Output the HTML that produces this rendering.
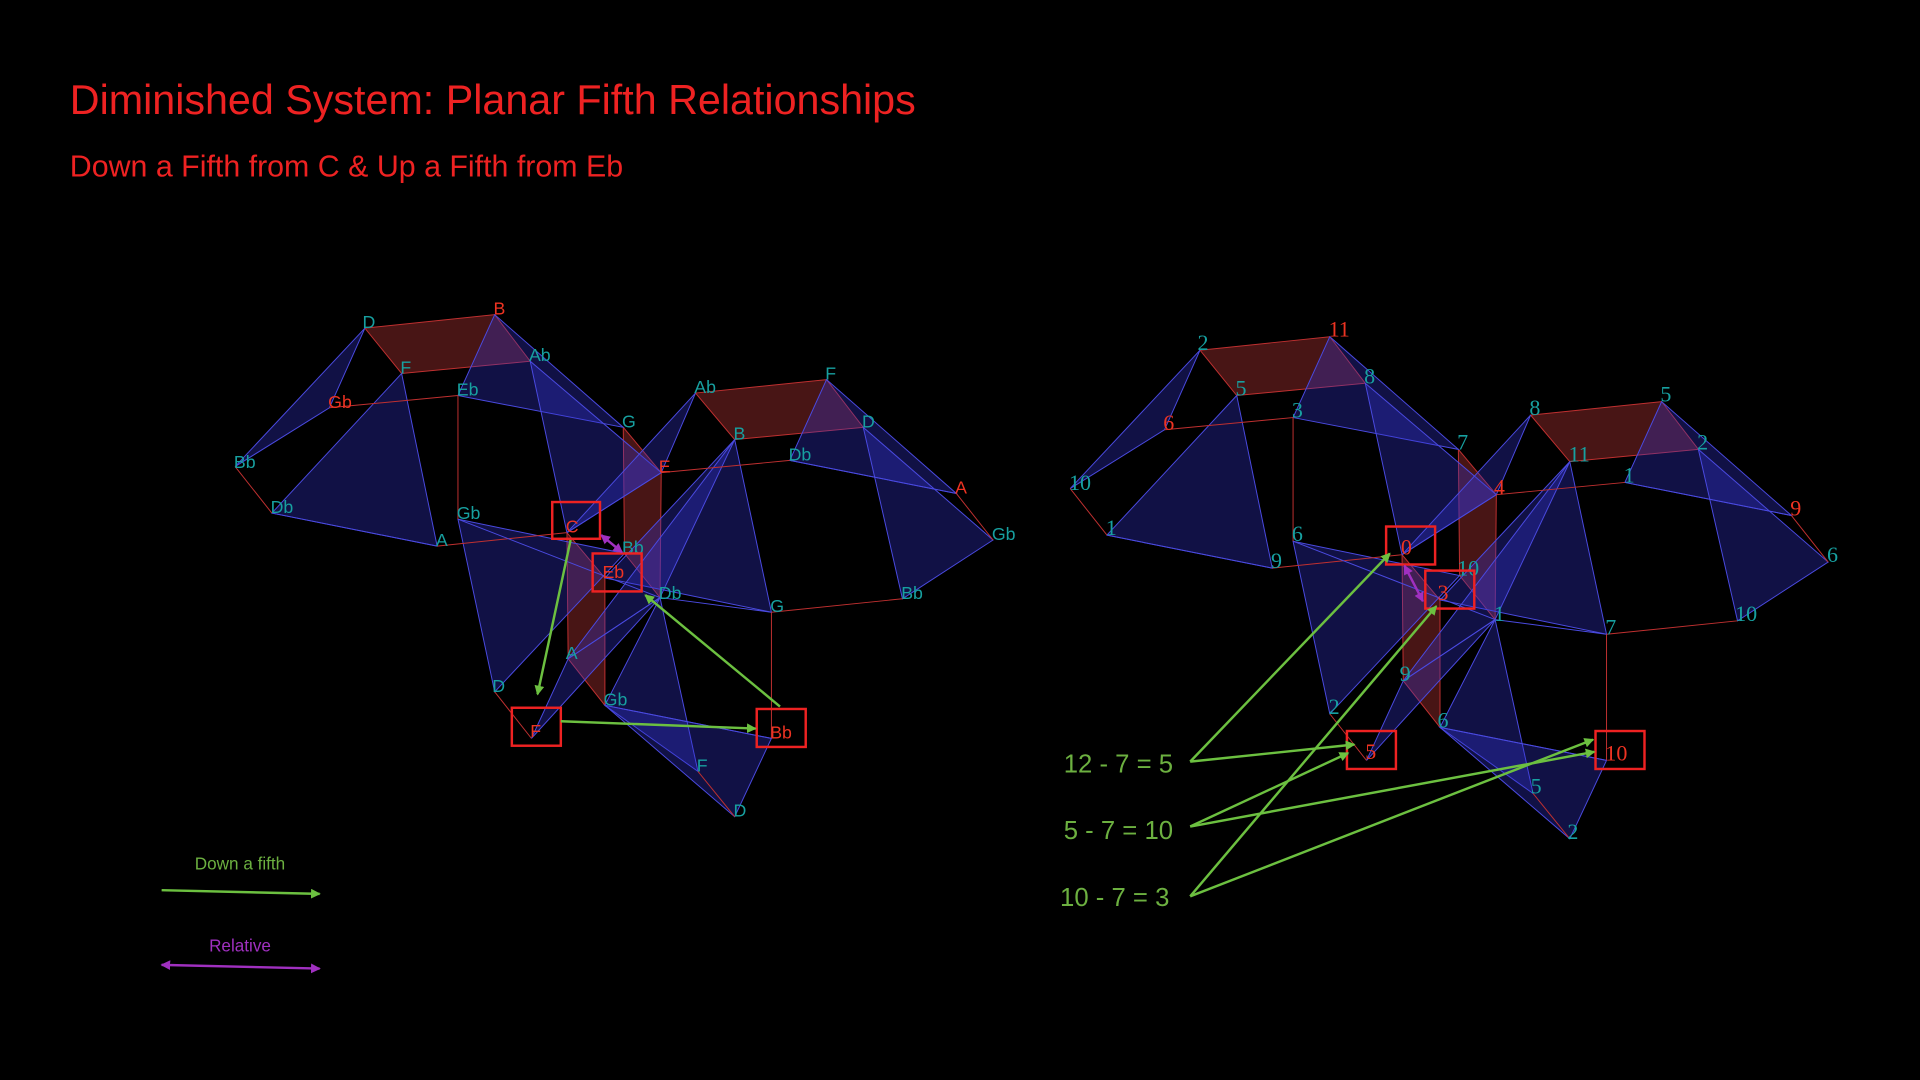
<!DOCTYPE html>
<html><head><meta charset="utf-8"><style>
html,body{margin:0;padding:0;background:#000;}
svg{display:block}
.t{font-family:"Liberation Sans",sans-serif;font-size:14.5px}
.n{font-family:"Liberation Serif",serif;font-size:18px}
.c{fill:#17a0a0}.r{fill:#ee3322}
</style></head><body>
<svg width="1920" height="1080" viewBox="0 0 1568 882" xmlns="http://www.w3.org/2000/svg">
<rect width="1568" height="882" fill="#000"/>
<defs>
<marker id="ag" markerWidth="8" markerHeight="8" refX="7" refY="4" orient="auto" markerUnits="userSpaceOnUse"><path d="M0,0 L8,4 L0,8 z" fill="#6cc040"/></marker>
<marker id="ap" markerWidth="8" markerHeight="8" refX="7" refY="4" orient="auto" markerUnits="userSpaceOnUse"><path d="M0,0 L8,4 L0,8 z" fill="#a030c0"/></marker>
<marker id="aps" markerWidth="8" markerHeight="8" refX="1" refY="4" orient="auto" markerUnits="userSpaceOnUse"><path d="M8,0 L0,4 L8,8 z" fill="#a030c0"/></marker>
<g id="body">
 <g fill="#5a1a1a" fill-opacity="0.8" stroke="#c03030" stroke-width="0.8">
  <polygon points="298,268 404,257 433,295 328,305"/>
  <polygon points="568,321 675,310 705,349 600,359"/>
  <polygon points="509,349 540,386 539,488 510,452"/>
  <polygon points="463,435 494,472 494,576 464,538"/>
 </g>
 <g fill="#3535d0" fill-opacity="0.33" stroke="#4a4ae0" stroke-width="0.8">
  <polygon points="298,268 192,381 269,333"/>
  <polygon points="328,305 222,419 357,446"/>
  <polygon points="404,257 374,323 509,349"/>
  <polygon points="433,295 463,435 540,386"/>
  <polygon points="374,424 404,565 510,452"/>
  <polygon points="568,321 463,435 540,386"/>
  <polygon points="600,359 494,472 630,500"/>
  <polygon points="600,359 464,538 539,488"/>
  <polygon points="539,488 434,603 464,538"/>
  <polygon points="675,310 645,376 781,403"/>
  <polygon points="705,349 737,489 811,441"/>
  <polygon points="539,488 570,630 494,576"/>
  <polygon points="494,576 600,667 630,603"/>
 </g>
 <g stroke="#c03030" stroke-width="0.8" fill="none">
  <line x1="269" y1="333" x2="374" y2="323"/>
  <line x1="192" y1="381" x2="222" y2="419"/>
  <line x1="374" y1="323" x2="374" y2="424"/>
  <line x1="357" y1="446" x2="463" y2="435"/>
  <line x1="540" y1="386" x2="645" y2="376"/>
  <line x1="781" y1="403" x2="811" y2="441"/>
  <line x1="737" y1="489" x2="630" y2="500"/>
  <line x1="630" y1="500" x2="630" y2="603"/>
  <line x1="404" y1="565" x2="434" y2="603"/>
  <line x1="570" y1="630" x2="600" y2="667"/>
 </g>
 <g stroke="#4a4ae0" stroke-width="0.8" fill="none">
  <line x1="222" y1="419" x2="357" y2="446"/>
  <line x1="374" y1="424" x2="539" y2="488"/>
  <line x1="539" y1="488" x2="630" y2="500"/>
  <line x1="645" y1="376" x2="781" y2="403"/>
  <line x1="494" y1="576" x2="630" y2="603"/>
 </g>
</g>
</defs>
<use href="#body"/>
<use href="#body" transform="translate(682,18)"/>

<text x="57" y="93" font-family="Liberation Sans,sans-serif" font-size="33.7" fill="#ee2222">Diminished System: Planar Fifth Relationships</text>
<text x="57" y="144" font-family="Liberation Sans,sans-serif" font-size="24.8" fill="#ee2222">Down a Fifth from C &amp; Up a Fifth from Eb</text>

<g class="t">
<text class="c" x="296" y="268">D</text><text class="r" x="403" y="257">B</text>
<text class="c" x="327" y="305">F</text><text class="c" x="432" y="295">Ab</text>
<text class="r" x="268" y="333">Gb</text><text class="c" x="373" y="323">Eb</text>
<text class="c" x="191" y="382">Bb</text><text class="c" x="221" y="419">Db</text>
<text class="c" x="356" y="446">A</text><text class="c" x="373" y="424">Gb</text>
<text class="r" x="462" y="435">C</text><text class="c" x="508" y="349">G</text>
<text class="r" x="538" y="386">E</text><text class="c" x="508" y="452">Bb</text>
<text class="r" x="492" y="472">Eb</text><text class="c" x="538" y="489">Db</text>
<text class="c" x="567" y="321">Ab</text><text class="c" x="674" y="310">F</text>
<text class="c" x="599" y="359">B</text><text class="c" x="704" y="349">D</text>
<text class="c" x="644" y="376">Db</text><text class="r" x="780" y="403">A</text>
<text class="c" x="810" y="441">Gb</text><text class="c" x="736" y="489">Bb</text>
<text class="c" x="629" y="500">G</text><text class="c" x="462" y="538">A</text>
<text class="c" x="402" y="565">D</text><text class="r" x="433" y="602">F</text>
<text class="c" x="493" y="576">Gb</text><text class="r" x="629" y="603">Bb</text>
<text class="c" x="569" y="630">F</text><text class="c" x="599" y="667">D</text>
</g>
<g class="n">
<text class="c" x="978" y="286">2</text><text class="r" x="1085" y="275">11</text>
<text class="c" x="1009" y="323">5</text><text class="c" x="1114" y="313">8</text>
<text class="r" x="950" y="351">6</text><text class="c" x="1055" y="341">3</text>
<text class="c" x="873" y="400">10</text><text class="c" x="903" y="437">1</text>
<text class="c" x="1038" y="464">9</text><text class="c" x="1055" y="442">6</text>
<text class="r" x="1144" y="453">0</text><text class="c" x="1190" y="367">7</text>
<text class="r" x="1220" y="404">4</text><text class="c" x="1190" y="470">10</text>
<text class="r" x="1174" y="490">3</text><text class="c" x="1220" y="507">1</text>
<text class="c" x="1249" y="339">8</text><text class="c" x="1356" y="328">5</text>
<text class="c" x="1281" y="377">11</text><text class="c" x="1386" y="367">2</text>
<text class="c" x="1326" y="394">1</text><text class="r" x="1462" y="421">9</text>
<text class="c" x="1492" y="459">6</text><text class="c" x="1417" y="507">10</text>
<text class="c" x="1311" y="518">7</text><text class="c" x="1143" y="556">9</text>
<text class="c" x="1085" y="583">2</text><text class="r" x="1115" y="620">5</text>
<text class="c" x="1174" y="594">6</text><text class="r" x="1311" y="621">10</text>
<text class="c" x="1250" y="648">5</text><text class="c" x="1280" y="685">2</text>
</g>

<g fill="none" stroke="#ee2222" stroke-width="2">
<rect x="451" y="410" width="39" height="30"/>
<rect x="484" y="452" width="40" height="31"/>
<rect x="418" y="578" width="40" height="31"/>
<rect x="618" y="579" width="40" height="31"/>
<rect x="1132" y="430" width="40" height="31"/>
<rect x="1164" y="466" width="40" height="31"/>
<rect x="1100" y="597" width="40" height="31"/>
<rect x="1303" y="597" width="40" height="31"/>
</g>

<g stroke="#6cc040" stroke-width="2" fill="none" marker-end="url(#ag)">
<line x1="466" y1="441" x2="439" y2="567"/>
<line x1="458" y1="589" x2="617" y2="595"/>
<line x1="637" y1="577" x2="527" y2="486"/>
<line x1="972" y1="622" x2="1135" y2="452"/>
<line x1="972" y1="622" x2="1106" y2="608"/>
<line x1="972" y1="675" x2="1101" y2="615"/>
<line x1="972" y1="675" x2="1302" y2="614"/>
<line x1="972" y1="732" x2="1173" y2="495"/>
<line x1="972" y1="732" x2="1301" y2="604"/>
<line x1="132" y1="727" x2="261" y2="730"/>
</g>
<g stroke="#a030c0" stroke-width="2" fill="none" marker-end="url(#ap)" marker-start="url(#aps)">
<line x1="491" y1="437" x2="508" y2="451"/>
<line x1="1147" y1="462" x2="1162" y2="491"/>
<line x1="132" y1="788" x2="261" y2="791"/>
</g>

<g font-family="Liberation Sans,sans-serif">
<text x="196" y="710" font-size="14" fill="#6cb040" text-anchor="middle">Down a fifth</text>
<text x="196" y="777" font-size="14" fill="#a030c0" text-anchor="middle">Relative</text>
<text x="958" y="631" font-size="21" fill="#6cb040" text-anchor="end">12 - 7 = 5</text>
<text x="958" y="685" font-size="21" fill="#6cb040" text-anchor="end">5 - 7 = 10</text>
<text x="955" y="740" font-size="21" fill="#6cb040" text-anchor="end">10 - 7 = 3</text>
</g>
</svg>
</body></html>
